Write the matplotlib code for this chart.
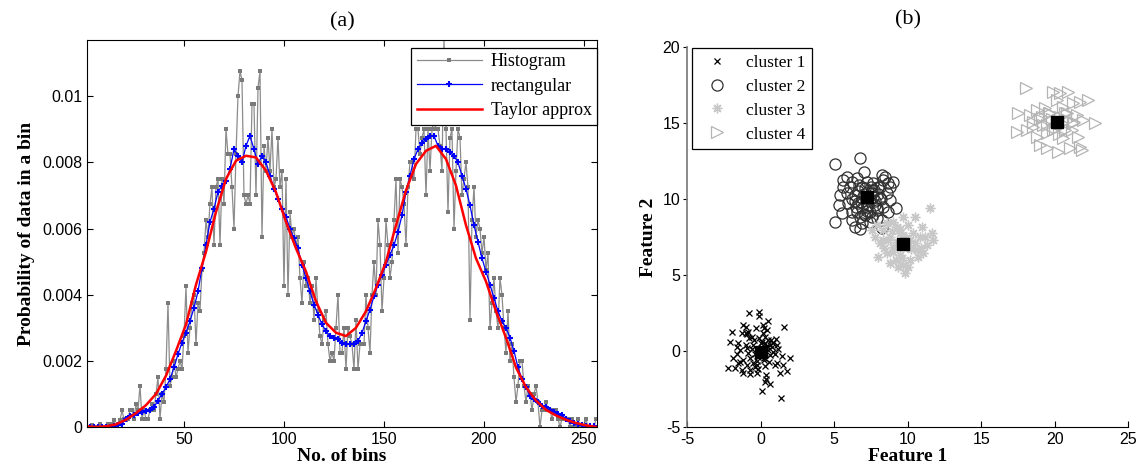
import matplotlib

matplotlib.use("Agg")

import matplotlib.pyplot as plt
import numpy as np

# ---- panel (a): histogram of bins, values in units of 1e-3 ----
hist_vals = [
    0.25, 0, 0, 0.05, 0, 0, 0, 0.1, 0, 0, 0, 0.1, 0, 0.1, 0.2, 0,
    0.1, 0.2, 0.5, 0.25, 0.2, 0.25, 0.5, 0.5, 0.25, 0.7, 0.5, 1.25, 0.25, 0.5, 0.25, 0.25,
    0.5, 0.7, 0.5, 1.0, 1.5, 0.25, 1.0, 0.75, 1.75, 3.75, 1.25, 1.5, 2.0, 1.5, 1.75, 2.0,
    1.75, 2.75, 4.25, 2.25, 3.0, 3.75, 4.0, 2.5, 3.75, 3.5, 4.75, 5.25, 6.25, 5.75, 6.75, 7.25,
    5.5, 7.25, 7.5, 5.5, 7.5, 6.75, 9.0, 8.25, 8.25, 7.25, 6.0, 8.25, 10.0, 10.75, 10.5, 7.0,
    6.75, 7.0, 6.75, 9.75, 9.75, 7.0, 10.25, 10.75, 5.75, 8.5, 7.75, 8.75, 7.75, 9.0, 7.25, 7.5,
    8.75, 7.25, 7.75, 4.25, 7.5, 4.0, 6.5, 5.75, 6.0, 5.5, 5.75, 4.5, 3.75, 5.0, 4.25, 4.5,
    3.75, 4.25, 3.25, 4.5, 3.5, 2.75, 2.5, 3.25, 3.5, 2.5, 2.0, 2.25, 2.0, 3.0, 4.0, 2.25,
    2.25, 3.0, 1.75, 3.0, 2.75, 2.5, 1.75, 3.25, 1.75, 2.5, 2.5, 2.5, 4.0, 3.0, 2.25, 4.0,
    5.0, 4.0, 6.25, 5.5, 3.5, 4.5, 6.25, 5.5, 4.5, 5.0, 6.25, 7.5, 5.25, 7.5, 7.25, 6.75,
    5.5, 7.25, 8.0, 8.0, 7.5, 9.0, 9.0, 8.25, 8.75, 9.0, 7.0, 9.0, 7.75, 9.0, 9.25, 9.0,
    9.0, 8.5, 7.75, 11.75, 9.0, 6.5, 8.75, 9.0, 6.0, 7.75, 9.0, 8.75, 7.0, 7.5, 8.0, 7.25,
    3.25, 6.25, 7.25, 5.75, 6.25, 6.0, 5.25, 5.75, 4.75, 5.25, 3.0, 3.75, 4.5, 3.5, 3.0, 4.5,
    4.0, 3.0, 2.25, 3.5, 2.0, 2.5, 1.5, 0.75, 1.25, 2.0, 2.0, 1.25, 0.75, 1.25, 1.0, 0.5,
    1.0, 1.25, 0.75, 0, 0.5, 0.5, 0.75, 0.5, 0.5, 0.25, 0.5, 0.5, 0.25, 0, 0.25, 0.25,
    0.25, 0.25, 0, 0.25, 0, 0, 0.25, 0, 0, 0, 0.25, 0, 0, 0, 0, 0.25,
]

# rectangular kernel estimate, odd bins 1..255
rect_bins = list(range(1, 257, 2))
rect_vals = [
    0, 0, 0, 0, 0, 0, 0, 0.02, 0.05, 0.1, 0.25, 0.33, 0.36, 0.42, 0.45, 0.48,
    0.52, 0.6, 0.8, 1.0, 1.2, 1.45, 1.8, 2.2, 2.55, 2.85, 3.2, 3.6, 4.1, 4.8, 5.5, 6.2,
    6.6, 7.1, 7.3, 7.45, 7.8, 8.4, 8.2, 8.0, 8.5, 8.8, 8.4, 7.95, 8.2, 8.0, 7.6, 7.2,
    6.9, 6.6, 6.35, 6.0, 5.7, 5.4, 4.9, 4.5, 4.1, 3.7, 3.4, 3.1, 2.9, 2.75, 2.7, 2.65,
    2.55, 2.5, 2.5, 2.5, 2.6, 2.85, 3.2, 3.55, 3.95, 4.3, 4.6, 4.9, 5.2, 5.5, 5.9, 6.4,
    7.1, 7.6, 8.1, 8.4, 8.6, 8.7, 8.8, 8.8, 8.5, 8.4, 8.4, 8.3, 8.2, 8.0, 7.6, 7.2,
    6.7, 6.1, 5.6, 5.1, 4.7, 4.3, 3.9, 3.5, 3.2, 3.0, 2.7, 2.3, 1.8, 1.45, 1.2, 0.95,
    0.85, 0.75, 0.65, 0.6, 0.5, 0.45, 0.4, 0.35, 0.25, 0.18, 0.12, 0.08, 0.05, 0.03, 0.02, 0.02,
]

# Taylor approximation, every 5th bin
taylor_bins = list(range(1, 257, 5))
taylor_vals = [
    0.02, 0.0, 0.02, 0.08, 0.22, 0.42, 0.66, 1.0, 1.55, 2.3, 3.1, 4.3, 5.3, 6.5, 7.5, 8.05,
    8.2, 8.15, 7.75, 7.1, 6.2, 5.4, 4.7, 3.8, 3.15, 2.85, 2.75, 3.0, 3.5, 4.2, 5.0, 6.1,
    7.15, 7.95, 8.35, 8.5, 8.1, 7.3, 6.1, 5.1, 4.4, 3.5, 2.7, 1.8, 1.2, 0.8, 0.52, 0.35,
    0.22, 0.12, 0.05, 0.0,
]

a_yticks = [0, 0.002, 0.004, 0.006, 0.008, 0.01]
a_yticklabels = ["0", "0.002", "0.004", "0.006", "0.008", "0.01"]
a_xticks = [50, 100, 150, 200, 250]

# ---- panel (b): clusters ----
c1_x = [-0.12, -0.81, -0.12, 0.51, 1.58, -1.98, -1.19, -1.01, -0.33, 0.12, 0.21, 0.40, -1.30, -0.96,
        -0.62, -0.10, 0.28, 0.67, 1.03, -2.10, -1.53, -1.01, -0.51, 0.0, 0.40, 0.74, 1.08, 1.19,
        -1.42, -1.64, -0.85, -0.40, 0.28, 0.62, 0.96, -1.87, -1.19, -0.74, -0.28, 0.21, 1.42, 1.98,
        -2.26, -1.53, -0.96, -0.40, -0.17, 0.28, 0.96, 1.53, -1.19, -0.74, -0.28, 0.35, 1.30, 1.76,
        0.35, 0.28, 0.62, 0.06, 1.35, -1.42, -1.64, -0.51, -0.24, -0.06, 0.46, 0.06, 0.80, -0.96,
        -1.76, -1.30, -0.74, -0.28, 0.58, 1.08, -0.47, -0.83, 0.85, 0.17, 0.3, 0.5, 0.4, -0.2,
        0.1, 0.6, -0.6, 0.2, -1.0, -0.9]
c1_y = [2.58, 2.51, 2.29, 1.99, 1.55, 1.26, 1.70, 1.59, 1.48, 1.70, 1.48, 1.37, 1.15, 1.11,
        0.93, 0.82, 0.89, 0.71, 0.76, 0.60, 0.54, 0.38, 0.38, 0.49, 0.32, 0.23, 0.38, 0.10,
        0.05, -0.21, -0.16, -0.21, -0.16, -0.27, -0.21, -0.49, -0.60, -0.49, -0.65, -0.49, -0.34, -0.49,
        -1.13, -0.82, -0.93, -1.04, -1.22, -1.00, -0.93, -0.93, -1.48, -1.53, -1.48, -1.59, -1.48, -1.31,
        -1.88, -2.03, -2.19, -2.62, -3.13, -0.71, 0.27, -0.82, 0.05, -0.21, 0.05, 0.16, -0.06, 0.16,
        -1.15, -1.26, -1.26, -0.93, -0.71, -0.78, 0.71, 0.82, 0.49, 1.15, 0.5, 0.7, 0.3, -0.4,
        0.6, 0.4, 0.1, -0.6, 1.2, 1.25]

c2_x = [5.05, 6.75, 7.02, 8.22, 8.45, 8.97, 5.61, 5.84, 5.39, 5.34, 5.05, 5.50, 6.18, 6.18,
        6.41, 6.75, 6.86, 7.43, 7.88, 8.22, 8.68, 9.20, 8.79, 8.56, 7.99, 7.65, 6.52, 6.07,
        5.84, 5.95, 6.63, 7.20, 7.77, 8.11, 7.54, 6.86, 6.41, 6.86, 7.65, 8.34, 7.09, 6.52,
        7.43, 7.88, 7.20, 8.34, 5.61, 6.18, 6.75, 7.54, 8.11, 8.68, 8.79, 8.22,
        7.0, 7.4, 6.8, 7.6, 7.3, 6.6, 7.8, 7.1, 6.9, 7.5, 6.4, 8.0, 7.2, 6.7, 7.9, 6.5,
        7.7, 7.0, 6.2, 8.2]
c2_y = [12.31, 12.68, 11.80, 11.58, 11.47, 11.14, 11.25, 11.43, 10.26, 9.60, 8.51, 9.06, 9.17, 8.62,
        8.18, 8.00, 8.40, 8.51, 8.73, 8.62, 9.17, 9.39, 9.94, 10.37, 10.81, 11.03, 11.36, 10.81,
        10.37, 9.71, 9.71, 9.50, 9.60, 10.04, 10.59, 10.81, 10.26, 10.04, 10.15, 9.50, 8.95, 9.17,
        9.17, 9.28, 11.14, 11.25, 10.81, 11.14, 8.84, 8.84, 10.81, 11.03, 10.81, 8.07,
        10.3, 10.0, 9.8, 10.4, 9.6, 10.5, 9.9, 10.7, 9.4, 10.8, 9.9, 10.3, 9.2, 10.9, 9.4, 9.5,
        10.6, 9.0, 10.0, 10.0]

c3_x = [11.51, 10.49, 9.70, 9.02, 8.56, 7.88, 7.54, 8.34, 9.24, 10.04, 10.94, 11.62, 11.74, 11.28,
        11.06, 10.60, 10.15, 9.47, 8.79, 8.11, 7.99, 8.56, 8.79, 9.36, 9.81, 9.70, 10.15, 10.72,
        9.02, 9.92, 8.68, 9.47, 7.77, 11.17, 10.38,
        9.3, 9.9, 10.2, 9.0, 9.6, 10.5, 8.9, 9.5, 10.8, 9.2, 10.0, 8.4, 10.9, 9.7, 8.3]
c3_y = [9.39, 8.84, 8.84, 8.51, 8.40, 8.29, 7.96, 7.96, 8.18, 8.29, 8.18, 7.74, 7.30, 6.97,
        6.42, 6.64, 7.30, 7.74, 7.52, 7.08, 6.20, 6.42, 5.76, 5.54, 5.10, 5.65, 5.98, 6.20,
        6.86, 6.86, 7.30, 6.31, 7.52, 7.52, 7.74,
        7.2, 7.4, 6.7, 6.5, 6.1, 7.1, 7.9, 8.0, 7.5, 6.0, 5.5, 6.8, 6.8, 7.6, 7.3]

c4_x = [18.02, 19.90, 20.35, 20.92, 22.28, 21.71, 21.26, 20.13, 20.58, 17.52, 18.31, 18.77, 19.33,
        19.11, 19.67, 20.81, 21.49, 21.94, 22.73, 17.41, 18.54, 18.77, 19.45, 20.69, 21.15, 21.60,
        18.99, 19.45, 20.24, 21.03, 21.71, 21.83, 18.54, 20.35, 21.26, 19.90, 19.22, 20.58, 18.09,
        19.8, 20.5, 19.5, 20.9, 20.0, 19.0, 20.7, 19.6, 21.3, 20.3]
c4_y = [17.29, 17.07, 17.00, 17.07, 16.52, 16.41, 16.30, 16.52, 16.08, 15.64, 15.53, 15.86, 15.97,
        15.42, 15.64, 15.64, 15.53, 15.20, 15.03, 14.43, 14.76, 14.10, 14.33, 14.55, 14.55, 14.10,
        13.56, 13.34, 13.12, 13.34, 13.45, 13.23, 15.09, 15.42, 14.98, 14.55, 14.87, 13.99, 14.55,
        15.3, 15.0, 14.9, 15.2, 14.6, 15.3, 15.7, 15.7, 15.1, 14.3]

centroid_x = [0.0, 7.2, 9.65, 20.13]
centroid_y = [-0.05, 10.15, 7.04, 15.09]

SERIF = ["Liberation Serif", "DejaVu Serif"]
SANS = ["Liberation Sans", "DejaVu Sans"]
plt.rcParams["font.family"] = SANS
plt.rcParams["axes.unicode_minus"] = False

fig = plt.figure(figsize=(11.43, 4.76), dpi=100)

# ---------------- (a) ----------------
ax_a = fig.add_axes([0.0761, 0.1029, 0.4462, 0.8131])
bins = np.arange(1, len(hist_vals) + 1)
ax_a.plot(bins, np.array(hist_vals) * 1e-3, color="#8c8c8c", linewidth=0.9,
          marker="s", markersize=2.4, markeredgewidth=0, markerfacecolor="#7a7a7a",
          label="Histogram")
ax_a.plot(rect_bins, np.array(rect_vals) * 1e-3, color="#0000ff", linewidth=0.9,
          marker="+", markersize=5, markeredgewidth=1.5, label="rectangular")
ax_a.plot(taylor_bins, np.array(taylor_vals) * 1e-3, color="#ff0000", linewidth=1.8,
          label="Taylor approx")
ax_a.set_xlim(1.5, 256.5)
ax_a.set_ylim(0, 0.0117)
ax_a.set_xticks(a_xticks)
ax_a.set_yticks(a_yticks)
ax_a.set_yticklabels(a_yticklabels)
ax_a.tick_params(direction="in", top=True, right=True, length=4, labelsize=11.5, width=0.8)
ax_a.set_xlabel("No. of bins", family=SERIF, fontweight="bold", fontsize=14, labelpad=1)
ax_a.set_ylabel("Probability of data in a bin", family=SERIF, fontweight="bold", fontsize=14, labelpad=5)
ax_a.set_title("(a)", family=SERIF, fontsize=16, pad=10)
leg_a = ax_a.legend(loc="upper right", bbox_to_anchor=(1.0, 0.98), borderaxespad=0,
                    prop={"family": SERIF, "size": 13}, fancybox=False, edgecolor="black",
                    framealpha=1, handlelength=3.6, labelspacing=0.42, borderpad=0.3,
                    handletextpad=0.5)
leg_a.get_frame().set_linewidth(0.9)

# ---------------- (b) ----------------
ax_b = fig.add_axes([0.6013, 0.1036, 0.3858, 0.7971])
ax_b.plot(c1_x, c1_y, linestyle="none", marker="x", markersize=4.5, markeredgewidth=0.9,
          color="black", label="cluster 1")
ax_b.plot(c2_x, c2_y, linestyle="none", marker="o", markersize=8, markeredgewidth=0.9,
          markerfacecolor="none", markeredgecolor="#303030", label="cluster 2")
ax_b.plot(c3_x, c3_y, linestyle="none", marker=(8, 2, 0), markersize=7, markeredgewidth=1.0,
          color="#c8c8c8", label="cluster 3")
ax_b.plot(c4_x, c4_y, linestyle="none", marker=">", markersize=8, markeredgewidth=0.9,
          markerfacecolor="none", markeredgecolor="#b4b4b4", label="cluster 4")
ax_b.plot(centroid_x, centroid_y, linestyle="none", marker="s", markersize=8, color="black")
ax_b.set_xlim(-5, 25)
ax_b.set_ylim(-5, 20)
ax_b.set_xticks([-5, 0, 5, 10, 15, 20, 25])
ax_b.set_yticks([-5, 0, 5, 10, 15, 20])
ax_b.spines["top"].set_visible(False)
ax_b.spines["right"].set_visible(False)
ax_b.spines["left"].set_color("#777777")
ax_b.spines["left"].set_linewidth(1.2)
ax_b.tick_params(axis="x", direction="in", length=4, labelsize=11.5)
ax_b.tick_params(axis="y", direction="out", length=3, labelsize=11.5, pad=2)
ax_b.set_xlabel("Feature 1", family=SERIF, fontweight="bold", fontsize=14, labelpad=1)
ax_b.set_ylabel("Feature 2", family=SERIF, fontweight="bold", fontsize=14, labelpad=4)
ax_b.text(0.5, 1.048, "(b)", transform=ax_b.transAxes, ha="center", va="bottom",
          family=SERIF, fontsize=16)
handles, labels = ax_b.get_legend_handles_labels()
leg_b = ax_b.legend(handles[:4], labels[:4], loc="upper left", bbox_to_anchor=(0.01, 0.997),
                    borderaxespad=0, prop={"family": SERIF, "size": 12.5}, fancybox=False,
                    edgecolor="black", framealpha=1, handlelength=2.2, labelspacing=0.45,
                    borderpad=0.35, handletextpad=0.6)
leg_b.get_frame().set_linewidth(0.9)

fig.savefig("out.png", dpi=100)
